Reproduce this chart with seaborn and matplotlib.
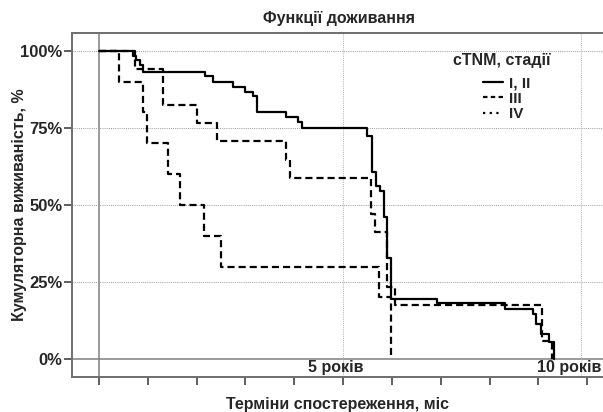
import matplotlib
matplotlib.use("Agg")
import matplotlib.pyplot as plt
import seaborn as sns
import pandas as pd
from matplotlib.lines import Line2D

# ---- data (months, cumulative survival %) ----
t_12 = [0, 8.4, 9.0, 10.1, 10.7, 26.1, 28.0, 33.0, 35.9, 37.9, 38.9, 45.9, 49.0, 50.0,
        66.0, 67.0, 68.0, 69.0, 70.0, 70.9, 71.8, 83.0, 99.8, 106.8, 107.5, 108.6, 110.7, 111.8]
s_12 = [100, 98.4, 96.9, 95.5, 93.3, 91.9, 90.0, 88.4, 86.8, 85.2, 80.3, 78.7, 77.0, 75.1,
        72.4, 60.8, 56.0, 54.4, 46.0, 32.7, 19.6, 18.1, 16.3, 14.6, 11.5, 8.2, 5.5, 0]

t_3 = [0, 8.85, 15.8, 24.0, 28.9, 46.0, 47.0, 66.9, 67.9, 70.9, 72.8, 108.8, 111.3]
s_3 = [100, 94.1, 82.4, 76.5, 70.6, 64.7, 58.8, 47.1, 41.2, 23.5, 17.6, 5.9, 0]

t_4 = [0, 5.0, 10.9, 11.9, 17.0, 19.8, 25.9, 29.9, 68.9, 71.8]
s_4 = [100, 90, 80, 70, 60, 50, 40, 30, 20, 0]

groups = ["I, II", "III", "IV"]
x_ticks = [0, 12, 24, 36, 48, 60, 72, 84, 96, 108, 120]
y_ticks = [0, 25, 50, 75, 100]
y_ticklabels = ["0%", "25%", "50%", "75%", "100%"]
year_labels = ["5 років", "10 років"]

sns.set_theme(style="white")
plt.rcParams['font.family'] = ['Liberation Sans', 'DejaVu Sans']
plt.rcParams['font.weight'] = 'bold'

fig = plt.figure(figsize=(6.03, 4.12), dpi=100)
ax = fig.add_axes([72/603, 35/412, 531/603, 344/412])

spine_col = "#6e6e6e"
# reference lines
ax.axhline(0, color="#808080", lw=1.1, zorder=1)
ax.axvline(0, color="#808080", lw=1.1, zorder=1)
for yv in [25, 50, 75, 100]:
    ax.axhline(yv, color="#9a9a9a", lw=0.7, ls=(0, (1, 1.2)), zorder=1)
for xv in [60, 118.5]:
    ax.axvline(xv, color="#b0b0b0", lw=0.7, ls=(0, (1, 1.2)), zorder=1)

series = [(t_12, s_12, "-"), (t_3, s_3, (0, (3.2, 1.8))), (t_4, s_4, (0, (3.2, 1.8)))]
for (t, s, ls), g in zip(series, groups):
    df = pd.DataFrame({"t": t, "s": s})
    sns.lineplot(data=df, x="t", y="s", ax=ax, color="black", lw=1.6,
                 drawstyle="steps-post", linestyle=ls, estimator=None, sort=False,
                 zorder=3)

ax.set_xlim(-6.64, 123.9)
ax.set_ylim(-5.84, 105.8)
ax.set_xticks(x_ticks)
ax.set_xticklabels([""] * len(x_ticks))
ax.set_yticks(y_ticks)
ax.set_yticklabels(y_ticklabels, fontsize=12, fontweight="bold")
ax.tick_params(axis="both", which="both", direction="out", length=6, width=1.1,
               color="#333333", bottom=True, left=True, pad=1)
ax.set_xlabel("")
ax.set_ylabel("Кумулятoрна виживаність, %", fontsize=11.5, fontweight="bold")
ax.yaxis.set_label_coords(-0.085, 0.5)

for side in ["left", "bottom", "top"]:
    ax.spines[side].set_visible(True)
    ax.spines[side].set_color(spine_col)
    ax.spines[side].set_linewidth(1.4)
ax.spines["right"].set_visible(False)

ax.text(51.4, -2.6, year_labels[0], fontsize=11.5, fontweight="bold", va="center", ha="left")
ax.text(123.5, -2.6, year_labels[1], fontsize=11.5, fontweight="bold", va="center", ha="right")

fig.text(0.563, 0.955, "Функції доживання", fontsize=11.5, fontweight="bold",
         ha="center", va="center")
fig.text(0.56, 0.018, "Терміни спостереження, міс", fontsize=11.5, fontweight="bold",
         ha="center", va="center")

# legend title as separate text
fig.text(502/603, 1 - 60/412, "cTNM, стадії", fontsize=11.5, fontweight="bold",
         ha="center", va="center")

handles = [Line2D([0], [0], color="black", lw=1.6, ls="-"),
           Line2D([0], [0], color="black", lw=1.6, ls=(0, (2, 1.5))),
           Line2D([0], [0], color="black", lw=1.6, ls=(0, (1, 2)))]
leg = ax.legend(handles, groups, loc="upper left",
                bbox_to_anchor=((483 - 72) / 531, (377 - 76) / 344), frameon=False,
                handlelength=1.3, handletextpad=0.4, labelspacing=0.1,
                borderpad=0.0, borderaxespad=0.0,
                prop={"weight": "bold", "size": 11})

fig.savefig("out.png", dpi=100)
